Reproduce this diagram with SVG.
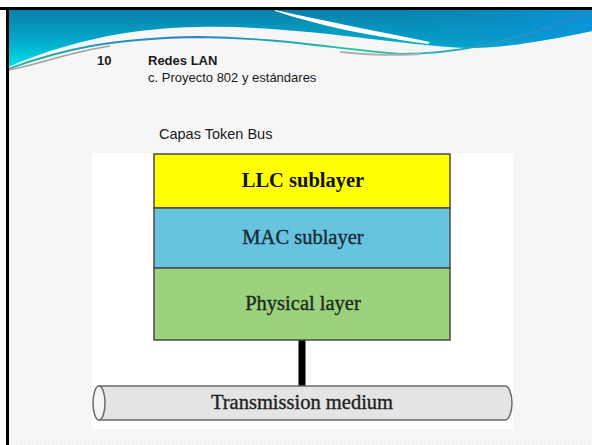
<svg xmlns="http://www.w3.org/2000/svg" width="592" height="445" viewBox="0 0 592 445">
<defs>
<linearGradient id="band" x1="0" y1="0" x2="0" y2="1">
<stop offset="0" stop-color="#0a7fa8"/>
<stop offset="0.5" stop-color="#04a4c8"/>
<stop offset="1" stop-color="#00e2ea"/>
</linearGradient>
<linearGradient id="bandR" x1="0" y1="0" x2="1" y2="0">
<stop offset="0" stop-color="#0a7fa8" stop-opacity="0"/>
<stop offset="1" stop-color="#0a96e0" stop-opacity="0.8"/>
</linearGradient>
<linearGradient id="line" x1="0" y1="0" x2="1" y2="0">
<stop offset="0" stop-color="#1fb8a0"/>
<stop offset="0.3" stop-color="#2a7ccc"/>
<stop offset="0.6" stop-color="#18c8a0"/>
<stop offset="1" stop-color="#3080d0"/>
</linearGradient>
<pattern id="tex" width="4" height="4" patternUnits="userSpaceOnUse">
<rect width="4" height="4" fill="#f7f7f7"/>
<rect x="0" y="0" width="1" height="1" fill="#efefef"/>
<rect x="2" y="2" width="1" height="1" fill="#efefef"/>
</pattern>
</defs>
<style>
.hdr{font-family:"Liberation Sans",Arial,sans-serif;font-size:13px;fill:#1a1a1a}
.b{font-weight:bold}
.lbl{font-family:"Liberation Serif","Times New Roman",serif;font-size:20.5px;text-anchor:middle;stroke-width:0.35}
.box{stroke:#4a4a4a;stroke-width:1.5}
</style>
<rect width="592" height="445" fill="#ffffff"/>
<rect x="8" y="9" width="584" height="436" fill="url(#tex)"/>
<!-- header band -->
<path d="M8,9 H592 V31 C540,42 500,48 470,48 C400,46 300,25 200,27 C120,28 60,45 8,67 Z" fill="url(#band)"/>
<path d="M300,9 H592 V31 C540,42 500,48 470,48 C430,46 420,42 400,38 Z" fill="url(#bandR)"/>
<path d="M275,10 C320,20 370,30 430,42 L428,44 C370,36 320,26 275,11 Z" fill="#ffffff"/>
<path d="M8,69 C60,50 110,38 200,37 C280,38 330,48 400,54 C450,54 510,45 592,10" fill="none" stroke="url(#line)" stroke-width="1.8"/>
<path d="M8,70 C40,64 70,52 110,46" fill="none" stroke="#a0a0a0" stroke-width="1.5"/>
<path d="M340,52 C370,55 390,56 420,54" fill="none" stroke="#b0b0b0" stroke-width="2"/>
<!-- frame -->
<rect x="0" y="7" width="592" height="3" fill="#000"/>
<rect x="6" y="7" width="3" height="438" fill="#000"/>
<text class="hdr b" x="97" y="65">10</text>
<text class="hdr b" x="148" y="65">Redes LAN</text>
<text class="hdr" x="148" y="82">c. Proyecto 802 y estándares</text>
<text class="hdr" x="159" y="139" style="font-size:14.5px">Capas Token Bus</text>
<!-- image area -->
<rect x="92" y="153" width="421" height="276" fill="#ffffff"/>
<g id="connectors">
<rect x="298.5" y="340" width="7" height="46" fill="#000"/>
</g>
<g id="llc">
<rect class="box" x="154" y="154" width="296" height="54" fill="#ffff00"/>
<text class="lbl" x="303" y="187" font-weight="bold" fill="#111">LLC sublayer</text>
</g>
<g id="mac">
<rect class="box" x="154" y="208" width="296" height="60" fill="#66c4de"/>
<text class="lbl" x="303" y="244" fill="#1a2836" stroke="#1a2836">MAC sublayer</text>
</g>
<g id="phy">
<rect class="box" x="154" y="268" width="296" height="72" fill="#9bd27e"/>
<text class="lbl" x="303" y="310" fill="#1e2a1a" stroke="#1e2a1a">Physical layer</text>
</g>
<g id="medium">
<path d="M99,386 H505 A7,17 0 0 1 505,420 H99" fill="#e4e4e4" stroke="#6a6a6a" stroke-width="1.5"/>
<ellipse cx="99" cy="403" rx="6" ry="17" fill="#f4f4f4" stroke="#6a6a6a" stroke-width="1.5"/>
<text class="lbl" x="302" y="409" fill="#222" stroke="#222">Transmission medium</text>
</g>
</svg>
